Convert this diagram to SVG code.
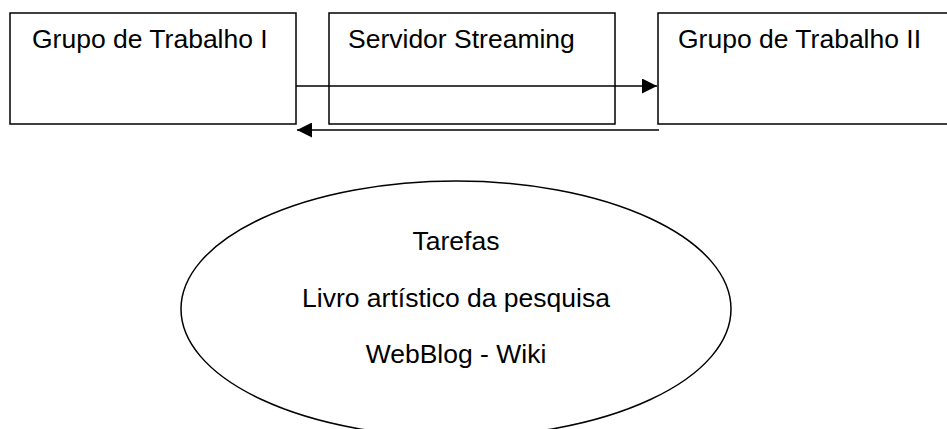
<svg xmlns="http://www.w3.org/2000/svg" width="947" height="429" viewBox="0 0 947 429">
<style>
.box{fill:#fff;stroke:#000;stroke-width:1.5}
.t{font-family:"Liberation Sans",Arial,sans-serif;font-size:26.5px;fill:#000}
.c{text-anchor:middle}
.ln{stroke:#000;stroke-width:1.5;fill:none}
</style>
<defs>
<marker id="ah" markerWidth="15" markerHeight="15" viewBox="0 0 15 15" refX="15" refY="7.5" orient="auto" markerUnits="userSpaceOnUse">
<path d="M0,0 L15,7.5 L0,15 Z" fill="#000"/>
</marker>
</defs>
<rect width="947" height="429" fill="#fff"/>
<g id="grupo1">
<rect class="box" x="10" y="13" width="286" height="111"/>
<text class="t" x="32" y="48">Grupo de Trabalho I</text>
</g>
<g id="servidor">
<rect class="box" x="329" y="13" width="286" height="111"/>
<text class="t" x="348" y="48">Servidor Streaming</text>
</g>
<g id="grupo2">
<rect class="box" x="658" y="13" width="300" height="111"/>
<text class="t" x="678" y="48">Grupo de Trabalho II</text>
</g>
<g id="connectors">
<line class="ln" x1="296" y1="86" x2="657" y2="86" marker-end="url(#ah)"/>
<line class="ln" x1="659" y1="130" x2="297" y2="130" marker-end="url(#ah)"/>
</g>
<g id="tarefas">
<ellipse class="box" cx="456" cy="309" rx="275" ry="128"/>
<text class="t c" x="456" y="250">Tarefas</text>
<text class="t c" x="456" y="307">Livro artístico da pesquisa</text>
<text class="t c" x="456" y="363">WebBlog - Wiki</text>
</g>
</svg>
